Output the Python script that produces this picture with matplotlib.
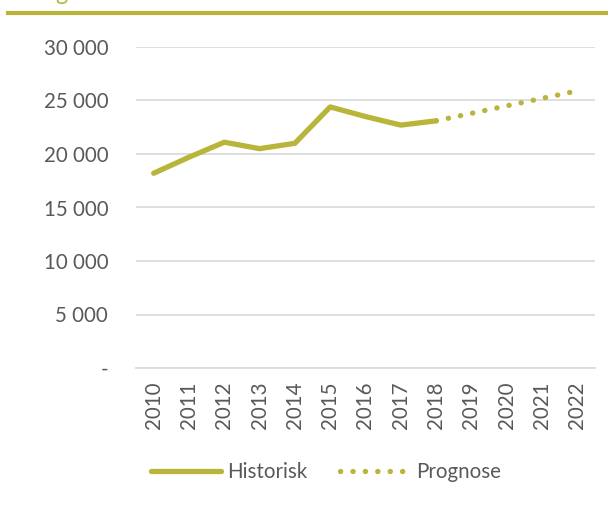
import matplotlib
matplotlib.use("Agg")
import matplotlib.pyplot as plt
from matplotlib.lines import Line2D
from matplotlib.ticker import FuncFormatter
import numpy as np

# data
years = [2010, 2011, 2012, 2013, 2014, 2015, 2016, 2017, 2018, 2019, 2020, 2021, 2022]
hist_years = [2010, 2011, 2012, 2013, 2014, 2015, 2016, 2017, 2018]
hist_vals = [18200, 19700, 21100, 20500, 21000, 24400, 23500, 22700, 23100]
prog_years = [2018, 2019, 2020, 2021, 2022]
prog_vals = [23100, 23800, 24500, 25200, 25900]
y_ticks = [0, 5000, 10000, 15000, 20000, 25000, 30000]

olive = "#B8B53A"
grey_txt = "#595959"
grid_col = "#D9D9D9"

plt.rcParams['font.family'] = ['Lato', 'DejaVu Sans']
fs = 14.8

fig = plt.figure(figsize=(6.08, 5.09), dpi=100)
ax = fig.add_axes([136 / 608, 1 - 368 / 509, (595 - 136) / 608, (368 - 47) / 509])

xi = {y: i for i, y in enumerate(years)}
ax.plot([xi[y] for y in hist_years], hist_vals, color=olive, lw=3.8,
        solid_capstyle='round', solid_joinstyle='round', label='Historisk')
ax.plot([xi[y] for y in prog_years], prog_vals, color=olive, lw=3.8,
        linestyle=(0, (0.05, 2.3)), dash_capstyle='round', label='Prognose')

ax.set_xlim(-0.5, len(years) - 0.5)
ax.set_ylim(0, 30000)
ax.set_yticks(y_ticks)
ax.yaxis.set_major_formatter(FuncFormatter(
    lambda v, p: '-' if v == 0 else f"{int(v):,}".replace(',', ' ')))
ax.set_xticks(range(len(years)))
ax.set_xticklabels([str(y) for y in years], rotation=90)

ax.grid(axis='y', color=grid_col, lw=1.2)
ax.set_axisbelow(True)
for s in ['top', 'right', 'left']:
    ax.spines[s].set_visible(False)
ax.spines['bottom'].set_color(grid_col)
ax.spines['bottom'].set_linewidth(1.2)
ax.tick_params(axis='both', length=0, labelsize=fs, labelcolor=grey_txt)
ax.tick_params(axis='y', pad=20)
ax.tick_params(axis='x', pad=10)

leg = fig.legend(loc='center', bbox_to_anchor=(326 / 608, 1 - 472 / 509), ncol=2,
                 frameon=False, fontsize=fs, handlelength=3.4,
                 handletextpad=0.3, columnspacing=1.6)
for t in leg.get_texts():
    t.set_color(grey_txt)

# cropped title and rule at the top
fig.text(61.5 / 608, 1.0, 'g', ha='center', va='baseline', fontsize=fs + 2,
         color=olive)
fig.add_artist(Line2D([8 / 608, 1.0], [1 - 13 / 509, 1 - 13 / 509],
                      color=olive, lw=3, transform=fig.transFigure))

fig.savefig("out.png", dpi=100)
